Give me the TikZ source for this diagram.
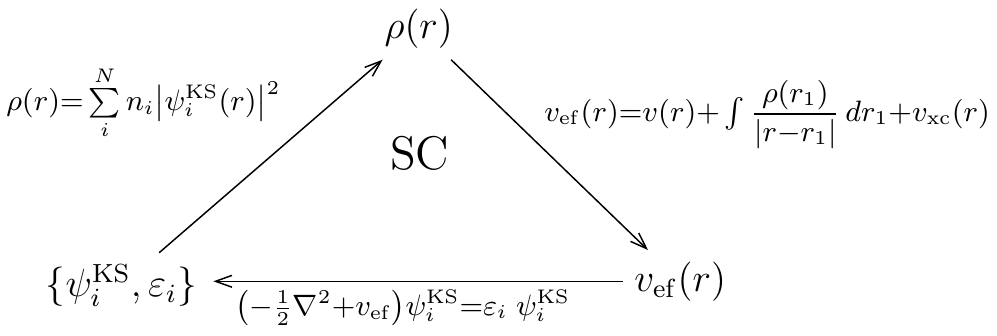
\documentclass[tikz,border=0pt]{standalone}
\usepackage{amsmath}
\usetikzlibrary{arrows.meta}
\tikzset{
  qnode/.style={font=\large},
  qtitle/.style={font=\Large},
  qlabel/.style={anchor=base,inner sep=0pt,font=\small},
  qedge/.style={-{Straight Barb[length=5pt,width=3.6pt]},line width=0.45pt},
}
\begin{document}
\begin{tikzpicture}
  \useasboundingbox (0,0) rectangle (10.69,3.60);
  \node[qnode] (rho) at (4.49,3.295) {$\rho(r)$};
  \node[qnode] (psi) at (1.302,0.541) {$\{\psi_i^{\mathrm{KS}},\varepsilon_i\}$};
  \node[qnode] (vef) at (7.294,0.584) {$v_{\mathrm{ef}}(r)$};
  \node[qtitle] (sc) at (4.50,1.956) {SC};
  %
  \draw[qedge] (psi) -- (rho);
  \draw[qedge] (rho) -- (vef);
  \draw[qedge,shorten >=1.5pt] (vef.west) -- (vef.west -| psi.east);
  %
  \node[qlabel] (dens) at (1.538,2.41)
    {$\rho(r){=}\sum\limits_{i}^{N} n_i \bigl|\psi_i^{\mathrm{KS}}(r)\bigr|^2$};
  \node[qlabel] (pot) at (8.226,2.30)
    {$v_{\mathrm{ef}}(r){=}v(r){+}\int \dfrac{\rho(r_1)}{|r{-}r_1|}\,dr_1{+}v_{\mathrm{xc}}(r)$};
  \node[qlabel] (ks) at (4.319,0.215)
    {$\bigl(-\tfrac{1}{2}\nabla^2{+}v_{\mathrm{ef}}\bigr)\psi_i^{\mathrm{KS}}{=}\varepsilon_i\;\psi_i^{\mathrm{KS}}$};
\end{tikzpicture}
\end{document}
